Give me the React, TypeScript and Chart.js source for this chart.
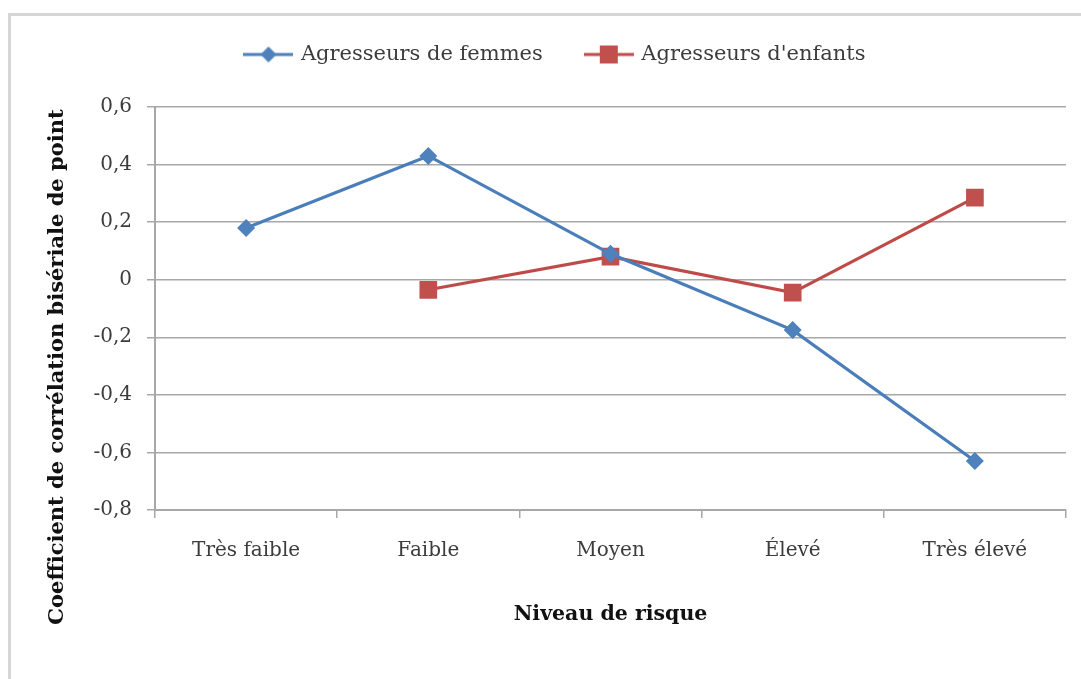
import React, { useEffect, useRef } from "react";
import { Chart, registerables } from "chart.js";

Chart.register(...registerables);

const categories = ["Très faible", "Faible", "Moyen", "Élevé", "Très élevé"];
const agresseursFemmes = [0.18, 0.43, 0.09, -0.175, -0.63];
const agresseursEnfants = [null, -0.035, 0.08, -0.045, 0.285];
const seriesNames = ["Agresseurs de femmes", "Agresseurs d'enfants"];
const yTitle = "Coefficient de corrélation bisériale de point";
const xTitle = "Niveau de risque";

const BLUE_LINE = "#4a7ebb";
const BLUE_FILL = "#4f81bd";
const RED_LINE = "#be4b48";
const RED_FILL = "#c0504d";
const GRID = "#a8a8a8";
const TEXT = "#3c3c3c";
const FONT = "'DejaVu Serif', serif";

function legendImage(color: string, fill: string, shape: "diamond" | "square") {
  const c = document.createElement("canvas");
  c.width = 50;
  c.height = 20;
  const ctx = c.getContext("2d")!;
  ctx.strokeStyle = color;
  ctx.lineWidth = 3;
  ctx.beginPath();
  ctx.moveTo(0, 10);
  ctx.lineTo(50, 10);
  ctx.stroke();
  ctx.fillStyle = fill;
  ctx.beginPath();
  if (shape === "diamond") {
    ctx.moveTo(25, 2);
    ctx.lineTo(33, 10);
    ctx.lineTo(25, 18);
    ctx.lineTo(17, 10);
    ctx.closePath();
  } else {
    ctx.rect(16, 1, 18, 18);
  }
  ctx.fill();
  return c;
}

export default function App() {
  const ref = useRef<HTMLCanvasElement>(null);
  useEffect(() => {
    document.body.style.margin = "0";
    document.body.style.overflow = "hidden";
    document.documentElement.style.overflow = "hidden";
    const imgs = [
      legendImage(BLUE_LINE, BLUE_FILL, "diamond"),
      legendImage(RED_LINE, RED_FILL, "square"),
    ];
    const legendSpace = {
      id: "legendSpace",
      beforeInit(chart: any) {
        const l = chart.legend;
        const f = l.fit;
        l.fit = function () {
          f.call(this);
          this.height = 107;
        };
      },
    };
    const frameAndTitle = {
      id: "frameAndTitle",
      beforeDraw(chart: any) {
        const ctx = chart.ctx;
        ctx.save();
        ctx.fillStyle = "#ffffff";
        ctx.fillRect(0, 0, chart.width, chart.height);
        ctx.strokeStyle = "#d6d6d6";
        ctx.lineWidth = 3;
        ctx.beginPath();
        ctx.moveTo(8, 14.5);
        ctx.lineTo(chart.width, 14.5);
        ctx.moveTo(9.5, 13);
        ctx.lineTo(9.5, chart.height);
        ctx.stroke();
        ctx.restore();
      },
      afterDraw(chart: any) {
        const ctx = chart.ctx;
        ctx.save();
        ctx.translate(58, 367);
        ctx.rotate(-Math.PI / 2);
        ctx.textAlign = "center";
        ctx.textBaseline = "middle";
        ctx.fillStyle = "#111";
        ctx.font = "bold 21px " + FONT;
        ctx.fillText(yTitle, 0, 0);
        ctx.restore();
      },
    };
    const chart = new Chart(ref.current!, {
      type: "line",
      data: {
        labels: categories,
        datasets: [
          {
            label: seriesNames[0],
            data: agresseursFemmes,
            borderColor: BLUE_LINE,
            backgroundColor: BLUE_FILL,
            borderWidth: 3.2,
            pointStyle: "rectRot",
            pointRadius: 9,
            pointBorderWidth: 0,
            pointBackgroundColor: BLUE_FILL,
          },
          {
            label: seriesNames[1],
            data: agresseursEnfants,
            borderColor: RED_LINE,
            backgroundColor: RED_FILL,
            borderWidth: 3.2,
            pointStyle: "rect",
            pointRadius: 12.5,
            pointBorderWidth: 0,
            pointBackgroundColor: RED_FILL,
          },
        ],
      },
      options: {
        animation: false,
        responsive: false,
        layout: { padding: { left: 46, right: 15, top: 0, bottom: 0 } },
        plugins: {
          tooltip: { enabled: false },
          legend: {
            position: "top",
            labels: {
              usePointStyle: true,
              pointStyleWidth: 44,
              padding: 44,
              color: TEXT,
              font: { family: FONT, size: 21 },
              generateLabels: (chart: any) =>
                chart.data.datasets.map((ds: any, i: number) => ({
                  text: ds.label,
                  pointStyle: imgs[i],
                  fillStyle: ds.backgroundColor,
                  strokeStyle: ds.borderColor,
                  lineWidth: 0,
                  hidden: false,
                  datasetIndex: i,
                  fontColor: TEXT,
                })),
            },
          },
        },
        scales: {
          x: {
            offset: true,
            grid: {
              offset: true,
              drawOnChartArea: false,
              drawTicks: true,
              tickLength: 8,
              color: GRID,
              lineWidth: 1.5,
            },
            border: { color: GRID, width: 2 },
            ticks: {
              color: TEXT,
              padding: 21,
              font: { family: FONT, size: 20 },
            },
            title: {
              display: true,
              text: xTitle,
              color: "#111",
              font: { family: FONT, size: 20.5, weight: "bold" },
              padding: { top: 0, bottom: 52 },
            },
            afterFit: (s: any) => {
              s.height = 679 - 510;
            },
          },
          y: {
            min: -0.8,
            max: 0.6,
            ticks: {
              stepSize: 0.2,
              color: TEXT,
              padding: 15,
              font: { family: FONT, size: 20 },
              callback: (v: any) =>
                Math.abs(Number(v)) < 1e-9 ? "0" : Number(v).toFixed(1).replace(".", ","),
            },
            grid: {
              color: GRID,
              lineWidth: 1.5,
              tickLength: 8,
            },
            border: { color: GRID, width: 2 },
            title: { display: false },
            afterFit: (s: any) => {
              s.width = 155 - 46;
            },
          },
        },
      },
      plugins: [legendSpace, frameAndTitle],
    } as any);
    return () => chart.destroy();
  }, []);
  return (
    <div style={{ position: "relative", width: 1081, height: 679, overflow: "hidden", background: "#fff" }}>
      <canvas ref={ref} width={1081} height={679} style={{ position: "absolute", left: 0, top: 0, display: "block" }} />
    </div>
  );
}
